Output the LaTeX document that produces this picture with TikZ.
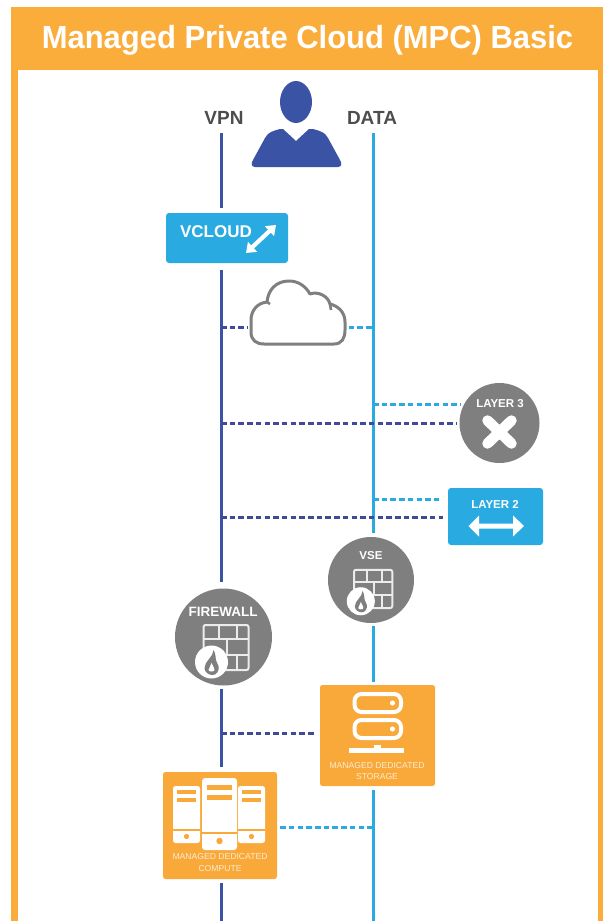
\documentclass[tikz,border=0pt]{standalone}
\usepackage{fontspec}
\setmainfont{Liberation Sans}
\usetikzlibrary{arrows.meta,calc}
\definecolor{hdr}{HTML}{FBAD3C}
\definecolor{boxor}{HTML}{F9A93A}
\definecolor{navyl}{HTML}{3B53A4}
\definecolor{navyd}{HTML}{404A98}
\definecolor{skyl}{HTML}{29ABE2}
\definecolor{cgrey}{HTML}{7F7F7F}
\definecolor{lblgrey}{HTML}{4D4D4D}
\definecolor{pale}{HTML}{FDEBD0}
\tikzset{
  vpnline/.style={draw=navyl,line width=3pt},
  dataline/.style={draw=skyl,line width=3pt},
  vpndash/.style={draw=navyd,line width=3pt,dash pattern=on 5.5pt off 3.2pt},
  datadash/.style={draw=skyl,line width=3pt,dash pattern=on 5.5pt off 3.2pt},
  lbl/.style={font=\fontsize{19}{20}\selectfont\bfseries,text=lblgrey,inner sep=0pt},
  wlbl/.style={font=\fontsize{#1}{#1}\selectfont\bfseries,text=white,inner sep=0pt},
  small/.style={font=\fontsize{8.6}{8.6}\selectfont,text=pale,inner sep=0pt},
  greyc/.style={circle,fill=cgrey,draw=none,inner sep=0pt,minimum size=#1},
  skybox/.style={fill=skyl,rounded corners=3pt,inner sep=0pt},
  orbox/.style={fill=boxor,rounded corners=2.5pt,inner sep=0pt},
  pics/wallicon/.style={code={
    \draw[white!85!cgrey,line width=2pt,rounded corners=2pt] (-20,-12) rectangle (25,33);
    \draw[white!85!cgrey,line width=2pt] (-20,2)--(25,2) (-20,18)--(25,18)
      (-5,-12)--(-5,2) (13,-12)--(13,2) (3,2)--(3,18) (13,18)--(13,33);
    \fill[white] (-12,25) circle (16.5);
    \fill[cgrey] (-10,13) .. controls (-10,20) and (-19,24) .. (-19,31)
      .. controls (-19,35) and (-15,38) .. (-11,38)
      .. controls (-7,38) and (-4,34) .. (-5,29)
      .. controls (-6,26) and (-8,24) .. (-8,19) .. controls (-8,17) and (-9,15) .. (-10,13) -- cycle;
    \fill[white] (-12,26) .. controls (-12,29) and (-15,30) .. (-15,33)
      .. controls (-15,35) and (-9,35) .. (-9,33) .. controls (-9,30) and (-11,29) .. (-12,26) -- cycle;
  }},
}
\begin{document}
\begin{tikzpicture}[x=1pt,y=-1pt]
\useasboundingbox (0,0) rectangle (603,921);
\fill[white] (0,0) rectangle (603,921);
% frame
\fill[hdr] (11,7) rectangle (603,921);
\fill[white] (18,70) rectangle (598,921);
\node[text=white,inner sep=0pt,font=\fontsize{32}{32}\selectfont\bfseries,xscale=.967,transform shape] (title) at (307.5,40) {Managed Private Cloud (MPC) Basic};

% labels
\node[lbl] (vpnlabel) at (224,118) {VPN};
\node[lbl] (datalabel) at (372,118) {DATA};
\coordinate (vtop) at (221,133);
\coordinate (dtop) at (373,133);
\coordinate (vbot) at (221,921);
\coordinate (dbot) at (373,921);

% person
\fill[navyl] (296,81) .. controls (305,81) and (312,91) .. (312,102) .. controls (312,114) and (304,123) .. (296,123) .. controls (288,123) and (280,114) .. (280,102) .. controls (280,91) and (287,81) .. (296,81) -- cycle;
\fill[navyl] (255,167) .. controls (251,167) and (251,163) .. (253,160)
  -- (265,138) .. controls (268,132) and (273,131) .. (280,129)
  -- (283,129) -- (296,141) -- (309,129) -- (313,129)
  .. controls (320,131) and (325,132) .. (328,138)
  -- (340,160) .. controls (342,163) and (342,167) .. (338,167) -- cycle;

% boxes and circles
\node[skybox,minimum width=122pt,minimum height=50pt] (vcloud) at (227,238) {};
\node[minimum width=95pt,minimum height=64pt,inner sep=0pt] (cloud) at (298,313) {};
\node[greyc=80pt] (layer3) at (499.5,423) {};
\node[skybox,minimum width=95pt,minimum height=57pt] (layer2) at (495.5,516.5) {};
\node[greyc=86pt] (vse) at (371,580) {};
\node[greyc=97pt] (firewall) at (223.5,637) {};
\node[orbox,minimum width=115pt,minimum height=101pt] (storage) at (377.5,735.5) {};
\node[orbox,minimum width=114pt,minimum height=107pt] (compute) at (220,825.5) {};

% VPN trunk
\draw[vpnline] (vtop) -- ($(vtop |- vcloud.north)+(0,-5)$);
\draw[vpnline] ($(vtop |- vcloud.south)+(0,7)$) -- ($(vtop |- firewall.north)+(0,-6)$);
\draw[vpnline] ($(vtop |- firewall.south)+(0,3)$) -- ($(vtop |- compute.north)+(0,-5)$);
\draw[vpnline] ($(vtop |- compute.south)+(0,4)$) -- (vbot);
% DATA trunk
\draw[dataline] (dtop) -- ($(dtop |- vse.north)+(0,-4)$);
\draw[dataline] ($(dtop |- vse.south)+(0,3)$) -- ($(dtop |- storage.north)+(0,-3)$);
\draw[dataline] ($(dtop |- storage.south)+(0,4)$) -- (dbot);

% dashed links
\path (vtop |- 0,327) coordinate (v1) (dtop |- 0,327) coordinate (d1)
      (dtop |- 0,404) coordinate (d2) (vtop |- 0,423) coordinate (v2)
      (dtop |- 0,499) coordinate (d3) (vtop |- 0,517) coordinate (v3)
      (vtop |- 0,733) coordinate (v4) (dtop |- 0,827) coordinate (d4);
\draw[vpndash] (v1) -- ($(cloud.west |- v1)+(-3,0)$);
\draw[datadash] ($(cloud.east |- d1)+(3,0)$) -- (d1);
\draw[datadash] (d2) -- ($(layer3.west |- d2)+(1,0)$);
\draw[vpndash] (v2) -- ($(layer3.west |- v2)+(-3,0)$);
\draw[datadash] (d3) -- ($(layer2.west |- d3)+(-6,0)$);
\draw[vpndash] (v3) -- ($(layer2.west |- v3)+(-5,0)$);
\draw[vpndash] (v4) -- ($(storage.west |- v4)+(-4,0)$);
\draw[datadash] ($(compute.east |- d4)+(3,0)$) -- (d4);

% vcloud content
\node[wlbl=17] (vcloudtxt) at (216,232) {VCLOUD};
\draw[white,line width=4.2pt,{Triangle[width=13pt,length=9pt]}-{Triangle[width=13pt,length=9pt]}] (246,253) -- (276,225);

% cloud outline
\draw[cgrey,line width=3pt,line join=round] (264,344) -- (334,344) .. controls (342,344) and (345,338) .. (345,330)
  -- (345,322) .. controls (345,312) and (338,306) .. (330,304)
  .. controls (328,296) and (318,291) .. (310,294)
  .. controls (305,285) and (297,281) .. (289,281)
  .. controls (276,281) and (268,290) .. (267,302)
  .. controls (257,303) and (251,311) .. (251,320) -- (251,332)
  .. controls (251,340) and (256,344) .. (264,344) -- cycle;
\draw[cgrey,line width=2.6pt] (330,304) -- (331,310) (267,302) -- (270,304);

% layer 3
\node[wlbl=11.5] (l3txt) at (500,404) {LAYER 3};
\draw[white,line width=10.5pt,line cap=round] (487.5,420.5) -- (511.5,443.5) (511.5,420.5) -- (487.5,443.5);
% layer 2
\node[wlbl=11.5] (l2txt) at (495,504) {LAYER 2};
\fill[white] (468.5,526) -- (479,515.5) -- (479,523.5) -- (513,523.5) -- (513,515.5) -- (524,526) -- (513,536.5) -- (513,528.5) -- (479,528.5) -- (479,536.5) -- cycle;

% vse and firewall
\node[wlbl=11.5] (vsetxt) at (371,556) {VSE};
\pic[scale=.85] at (vse) {wallicon};
\node[wlbl=13.5] (fwtxt) at (223,611.5) {FIREWALL};
\pic at (firewall) {wallicon};

% storage content
\foreach \yt/\yb in {694/712,720/738}{
  \draw[white,line width=4pt,rounded corners=7pt] (354.5,\yt) rectangle (401,\yb);
  \fill[white] (392.5,{(\yt+\yb)/2}) circle (2.6);
}
\fill[white] (349,748) rectangle (404,753);
\fill[white] (374,745) rectangle (381,748);
\node[small] (st1) at (377,766) {MANAGED DEDICATED};
\node[small] (st2) at (377,777) {STORAGE};

% compute content
\foreach \xa/\xb in {173/200,238/265}{
  \fill[white,rounded corners=2.5pt] (\xa,786) rectangle (\xb,843);
  \fill[boxor] (\xa+4,790) rectangle (\xb-4,794);
  \fill[boxor] (\xa+4,798) rectangle (\xb-4,802);
  \fill[boxor] (\xa,829) rectangle (\xb,830.5);
  \fill[boxor] ({(\xa+\xb)/2},836.5) circle (2.6);
}
\fill[white,rounded corners=3pt] (202,778) rectangle (237,850);
\fill[boxor] (207,784.5) rectangle (232,790);
\fill[boxor] (207,794.5) rectangle (232,800);
\fill[boxor] (202,832) rectangle (237,833.5);
\fill[boxor] (219.5,841) circle (3.2);
\node[small] (cp1) at (220,857) {MANAGED DEDICATED};
\node[small] (cp2) at (220,868.5) {COMPUTE};
\end{tikzpicture}
\end{document}
